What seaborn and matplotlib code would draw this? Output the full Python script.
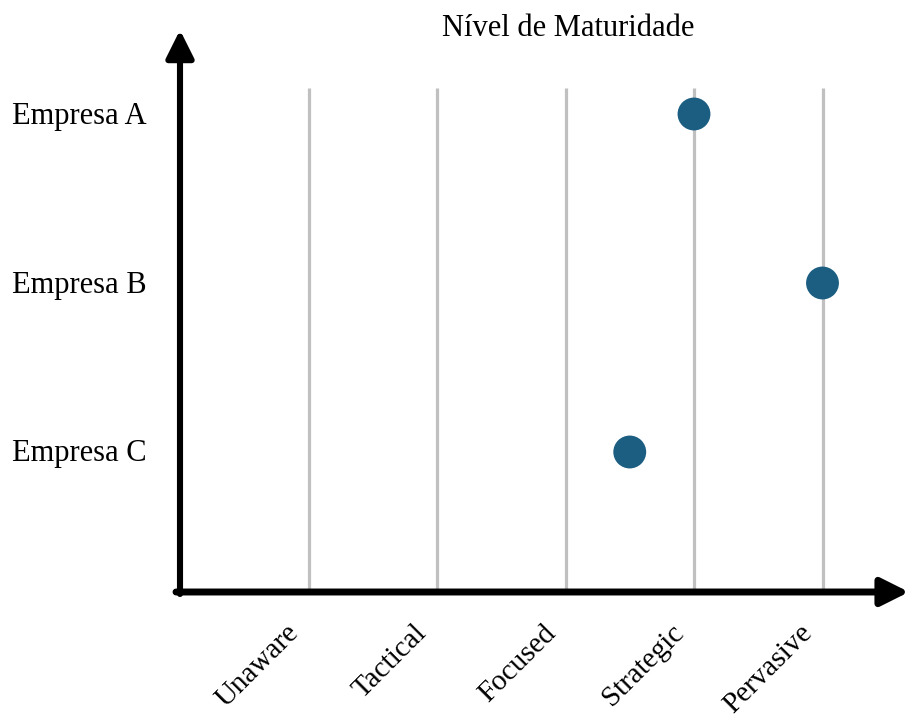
import matplotlib
matplotlib.use("Agg")
import matplotlib.pyplot as plt
import seaborn as sns
import pandas as pd

# Data
companies = ["Empresa A", "Empresa B", "Empresa C"]
maturity = [4.0, 5.0, 3.5]
levels = ["Unaware", "Tactical", "Focused", "Strategic", "Pervasive"]
title = "Nível de Maturidade"

sns.set_theme(style="white")
plt.rcParams["font.family"] = ["Liberation Serif", "DejaVu Serif"]
plt.rcParams["text.color"] = "black"

fig = plt.figure(figsize=(9.09, 7.2), dpi=100)
ax = fig.add_axes([0, 0, 1, 1])

# pixel -> data helpers (layout only)
def X(px):
    return (px - 180) / 128.5

def Y(py):
    return 1 + (452 - py) / 169

ax.set_xlim(X(0), X(909))
ax.set_ylim(Y(720), Y(0))
ax.axis("off")

level_pos = list(range(1, len(levels) + 1))
comp_pos = [len(companies) - i for i in range(len(companies))]

# grid lines
ax.vlines(level_pos, Y(590), Y(88), color="#c0c0c0", lw=2.3, zorder=1)

df = pd.DataFrame({"empresa": companies, "nivel": maturity, "y": comp_pos})
sns.scatterplot(data=df, x="nivel", y="y", ax=ax, s=560, color="#1b5e82",
                edgecolor="none", zorder=5, legend=False)

# axes arrows
ax.annotate("", xy=(X(180), Y(30)), xytext=(X(180), Y(594)),
            arrowprops=dict(arrowstyle="-|>", lw=4.4, color="black",
                            mutation_scale=42, shrinkA=0, shrinkB=0), zorder=6)
ax.annotate("", xy=(X(909), Y(592)), xytext=(X(176), Y(592)),
            arrowprops=dict(arrowstyle="-|>", lw=5.0, color="black",
                            mutation_scale=42, shrinkA=0, shrinkB=0), zorder=6)

# labels
for name, yp in zip(companies, comp_pos):
    ax.text(X(12), yp - 2 / 169, name, ha="left", va="center", fontsize=22,
            color="black")

for lab, xp in zip(levels, level_pos):
    ax.text(xp - 14 / 128.5, Y(629), lab, rotation=45, rotation_mode="anchor",
            ha="right", va="center", fontsize=21, color="black")

ax.text(X(568), Y(28), title, ha="center", va="center", fontsize=22,
        color="black")

fig.savefig("out.png", dpi=100)
